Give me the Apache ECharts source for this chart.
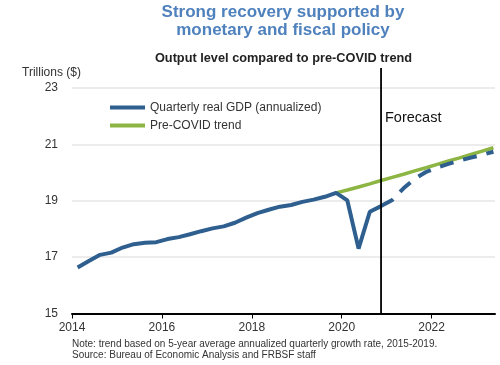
<!DOCTYPE html>
<html><head><meta charset="utf-8">
<script src="https://cdn.jsdelivr.net/npm/echarts@6/dist/echarts.min.js"></script>
<style>html,body{margin:0;padding:0;background:#fff}#c{width:500px;height:365px}</style>
</head><body><div id="c"></div>
<script>
// Quarter positions: year + (q-1)/4 + 0.125 (mid-quarter)
const histQuarters = ['2014Q1','2014Q2','2014Q3','2014Q4','2015Q1','2015Q2','2015Q3','2015Q4',
  '2016Q1','2016Q2','2016Q3','2016Q4','2017Q1','2017Q2','2017Q3','2017Q4',
  '2018Q1','2018Q2','2018Q3','2018Q4','2019Q1','2019Q2','2019Q3','2019Q4',
  '2020Q1','2020Q2','2020Q3','2020Q4'];
const histGDP = [16.63,16.86,17.08,17.16,17.34,17.46,17.51,17.53,
  17.64,17.71,17.81,17.92,18.02,18.09,18.22,18.40,
  18.56,18.68,18.79,18.85,18.96,19.04,19.14,19.28,
  19.01,17.30,18.61,18.81];
const fcQuarters = ['2020Q4','2021Q1','2021Q2','2021Q3','2021Q4','2022Q1','2022Q2','2022Q3','2022Q4','2023Q1','2023Q2'];
const fcGDP = [18.81,19.03,19.44,19.78,20.02,20.18,20.31,20.43,20.53,20.63,20.74];
const trendQuarters = ['2019Q4','2020Q1','2020Q2','2020Q3','2020Q4','2021Q1','2021Q2','2021Q3','2021Q4','2022Q1','2022Q2','2022Q3','2022Q4','2023Q1','2023Q2'];
const trendGDP = [19.28,19.38,19.49,19.60,19.72,19.83,19.94,20.06,20.17,20.29,20.41,20.52,20.64,20.76,20.88];
const forecastStart = '2020Q4';
const xTicks = [2014, 2016, 2018, 2020, 2022];
const yTicks = [15, 17, 19, 21, 23];

function qpos(q){ const y=+q.slice(0,4), n=+q.slice(5); return y+(n-1)/4+0.125; }
const pairs = (qs, vs) => qs.map((q,i)=>[qpos(q), vs[i]]);

const FONT = 'Liberation Sans, Arial, sans-serif';
const BLUE = '#2f5f8f', GREEN = '#8db543';
const chart = echarts.init(document.getElementById('c'), null, {renderer:'canvas'});
const xMin = 2014, xMax = 2023.41;
chart.setOption({
  animation:false,
  textStyle:{fontFamily:FONT},
  title:[
    {text:'Strong recovery supported by\nmonetary and fiscal policy', left:283, textAlign:'center', top:3, padding:0,
     textStyle:{fontFamily:FONT, fontSize:17, fontWeight:'bold', color:'#4f81bd', lineHeight:18.5}},
    {text:'Output level compared to pre-COVID trend', left:283.5, textAlign:'center', top:52, padding:0,
     textStyle:{fontFamily:FONT, fontSize:12.75, fontWeight:'bold', color:'#222'}},
    {text:'Trillions ($)', left:22, top:67, padding:0, textStyle:{fontFamily:FONT, fontSize:12, fontWeight:'normal', color:'#333'}},
    {text:'Note: trend based on 5-year average annualized quarterly growth rate, 2015-2019.\nSource: Bureau of Economic Analysis and FRBSF staff',
     left:72, top:339, padding:0, textStyle:{fontFamily:FONT, fontSize:10, fontWeight:'normal', color:'#333', lineHeight:10.5}}
  ],
  legend:{show:true, orient:'vertical', left:110, top:101.5, padding:0, itemWidth:35, itemHeight:4, itemGap:6, icon:'rect',
    data:['Quarterly real GDP (annualized)','Pre-COVID trend'],
    textStyle:{fontFamily:FONT, fontSize:12, color:'#333', padding:0}},
  grid:[{left:72, right:5, top:88, bottom:51.5}, {left:72, right:5, top:68, bottom:51.5}],
  xAxis:[
    {type:'value', gridIndex:0, min:xMin, max:xMax, interval:2,
     axisLine:{lineStyle:{color:'#000', width:2}},
     axisTick:{show:true, length:5, lineStyle:{color:'#000', width:1}},
     axisLabel:{fontFamily:FONT, fontSize:12, color:'#333', margin:8, showMaxLabel:false,
       formatter:v=>xTicks.includes(v)?String(v):''},
     splitLine:{show:false}},
    {type:'value', gridIndex:1, min:xMin, max:xMax, show:false}
  ],
  yAxis:[
    {type:'value', gridIndex:0, min:15, max:23, interval:2,
     axisLine:{show:false}, axisTick:{show:false},
     axisLabel:{fontFamily:FONT, fontSize:12, color:'#333', margin:14, formatter:v=>yTicks.includes(v)?String(v):''},
     splitLine:{lineStyle:{color:'#e6e6e6', width:1.5}}},
    {type:'value', gridIndex:1, min:0, max:1, show:false}
  ],
  graphic:[{type:'text', left:385, top:110, style:{text:'Forecast', fontFamily:FONT, fontSize:14.5, fill:'#111'}}],
  series:[
    {name:'Pre-COVID trend', type:'line', data:pairs(trendQuarters,trendGDP), showSymbol:false, symbol:'none',
     lineStyle:{color:GREEN, width:3.5}, itemStyle:{color:GREEN}, z:2},
    {name:'Quarterly real GDP (annualized)', type:'line', data:pairs(histQuarters,histGDP), showSymbol:false, symbol:'none',
     lineStyle:{color:BLUE, width:4}, itemStyle:{color:BLUE}, z:3},
    {name:'GDP forecast', type:'line', data:pairs(fcQuarters,fcGDP), showSymbol:false, symbol:'none',
     lineStyle:{color:BLUE, width:4, type:[14,10]}, itemStyle:{color:BLUE}, z:3},
    {name:'Forecast start', type:'line', xAxisIndex:1, yAxisIndex:1, data:[[qpos(forecastStart),0],[qpos(forecastStart),1]],
     showSymbol:false, symbol:'none', lineStyle:{color:'#000', width:1.8}, z:4}
  ]
});
</script></body></html>
